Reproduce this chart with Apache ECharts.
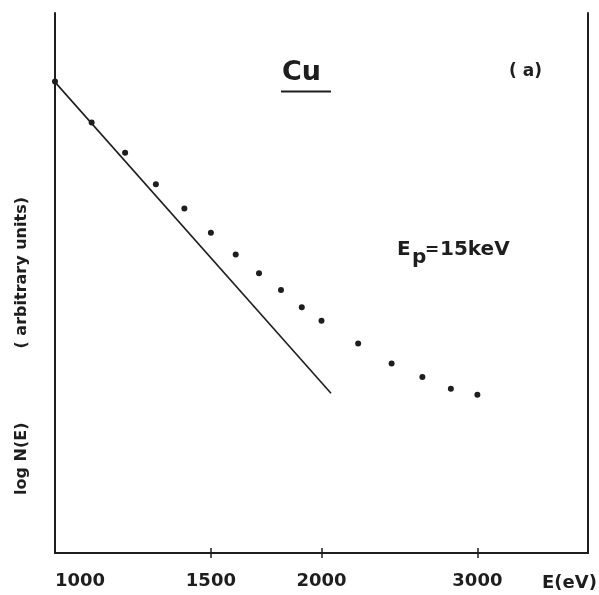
<!DOCTYPE html>
<html>
<head>
<meta charset="utf-8">
<script src="https://cdn.jsdelivr.net/npm/echarts@6/dist/echarts.min.js"></script>
<style>
  html, body { margin: 0; padding: 0; background: #fff; }
  #chart { width: 599px; height: 595px; }
</style>
</head>
<body>
<div id="chart"></div>
<script>
// Measured spectrum: energy E (eV) and log N(E) in arbitrary units
const energy = [1000, 1100, 1200, 1300, 1400, 1500, 1600, 1700, 1800, 1900, 2000, 2200, 2400, 2600, 2800, 3000];
const logN   = [87.3, 79.7, 74.1, 68.3, 63.8, 59.3, 55.3, 51.8, 48.7, 45.5, 43.0, 38.8, 35.1, 32.6, 30.4, 29.3];

// Straight-line fit through the low-energy part
const fitE    = [1000, 2050];
const fitLogN = [87.2, 29.6];

// Energy tick positions on the log axis
const tickE = [1000, 1500, 2000, 3000];

const ink = '#1e1e1e';
const font = 'DejaVu Sans';

const chart = echarts.init(document.getElementById('chart'), null, { renderer: 'canvas' });

const xCommon = {
  type: 'log',
  logBase: 10,
  min: 1000,
  max: 4000,
  splitLine: { show: false },
  axisLine: { show: true, lineStyle: { color: ink, width: 2 } }
};

chart.setOption({
  backgroundColor: '#ffffff',
  animation: false,
  grid: { left: 55, right: 11, top: 13, bottom: 42, containLabel: false },
  xAxis: [
    Object.assign({}, xCommon, {
      position: 'bottom',
      axisTick: { show: true, inside: true, length: 5, lineStyle: { color: ink, width: 1.5 }, customValues: tickE.slice(1) },
      axisLabel: {
        show: true, margin: 19, color: ink,
        fontFamily: font, fontWeight: 'bold', fontSize: 18,
        customValues: tickE, alignMinLabel: 'left',
        formatter: v => String(Math.round(v))
      }
    }),
    Object.assign({}, xCommon, {
      position: 'top',
      axisTick: { show: true, inside: true, length: 5, lineStyle: { color: ink, width: 1.5 }, customValues: tickE.slice(1) },
      axisLabel: { show: false }
    })
  ],
  yAxis: [
    {
      type: 'value', min: 0, max: 100, position: 'left',
      axisLine: { show: true, lineStyle: { color: ink, width: 2 } },
      axisTick: { show: false }, axisLabel: { show: false }, splitLine: { show: false },
      name: '{a|log N(E)}{gap|}{b|( arbitrary units)}{tail|}',
      nameLocation: 'middle', nameRotate: 90, nameGap: 25,
      nameTextStyle: {
        rich: {
          a: { fontFamily: font, fontWeight: 'bold', fontSize: 16, color: ink },
          gap: { width: 74 },
          b: { fontFamily: font, fontWeight: 'bold', fontSize: 16, color: ink },
          tail: { width: 126 }
        }
      }
    },
    {
      type: 'value', min: 0, max: 100, position: 'right',
      axisLine: { show: true, lineStyle: { color: ink, width: 2 } },
      axisTick: { show: false }, axisLabel: { show: false }, splitLine: { show: false }
    }
  ],
  series: [
    {
      type: 'line',
      data: fitE.map((e, i) => [e, fitLogN[i]]),
      symbol: 'none',
      lineStyle: { color: ink, width: 1.6 },
      z: 2
    },
    {
      type: 'scatter',
      data: energy.map((e, i) => [e, logN[i]]),
      symbol: 'circle',
      symbolSize: 6,
      itemStyle: { color: ink, opacity: 1 },
      z: 3
    }
  ],
  graphic: [
    { type: 'text', left: 282, top: 59, style: { text: 'Cu', fill: ink, font: 'bold 27px "DejaVu Sans"' } },
    { type: 'line', shape: { x1: 281, y1: 91.5, x2: 331, y2: 91.5 }, style: { stroke: ink, lineWidth: 2 } },
    { type: 'text', left: 509, top: 63, style: { text: '( a)', fill: ink, font: 'bold 17px "DejaVu Sans"' } },
    { type: 'text', left: 397, top: 240, style: { text: 'E', fill: ink, font: 'bold 20px "DejaVu Sans"' } },
    { type: 'text', left: 412, top: 248, style: { text: 'p', fill: ink, font: 'bold 20px "DejaVu Sans"' } },
    { type: 'text', left: 425, top: 242, style: { text: '=', fill: ink, font: 'bold 17px "DejaVu Sans"' } },
    { type: 'text', left: 440, top: 240, style: { text: '15keV', fill: ink, font: 'bold 20px "DejaVu Sans"' } },
    { type: 'text', left: 542, top: 574, style: { text: 'E(eV)', fill: ink, font: 'bold 18px "DejaVu Sans"' } }
  ]
});
</script>
</body>
</html>
